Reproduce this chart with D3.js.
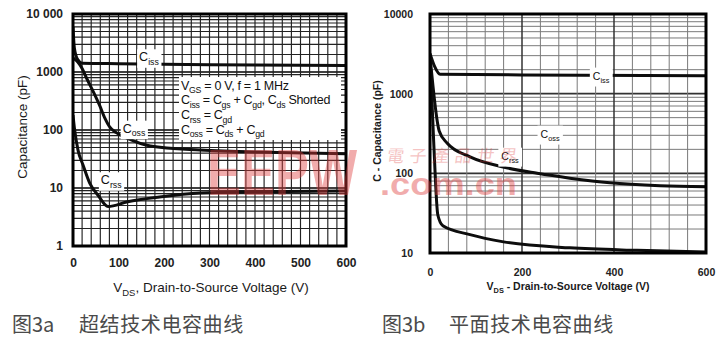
<!DOCTYPE html>
<html>
<head>
<meta charset="utf-8">
<script src="https://cdn.jsdelivr.net/npm/d3@7"></script>
<style>
	body { margin: 0; background: #fff; }
	svg { display: block; }
</style>
</head>
<body>
<script>
// figuur 3a: superjunction, [VDS (V), C (pF)]
const aCiss = [[0, 6000], [3, 2600], [10, 1650], [20, 1420], [100, 1390], [300, 1340], [600, 1290]]
const aCoss = [[0, 1750], [10, 1500], [20, 1150], [31, 750], [45, 450], [59, 260], [70, 160], [80, 115], [95, 90], [120, 72], [170, 53], [280, 45], [450, 41], [600, 39]]
const aCrss = [[0, 180], [3, 110], [11, 45], [22, 25], [37, 12], [55, 7.5], [77, 4.8], [120, 5.8], [190, 7.0], [280, 8.2], [400, 8.6], [600, 8.9]]

// figuur 3b: planar
const bCiss = [[0, 3200], [10, 2200], [22, 1750], [200, 1720], [600, 1680]]
const bCoss = [[0, 3000], [20, 340], [37, 240], [87, 161], [159, 120], [233, 100], [304, 87], [391, 76], [500, 70], [600, 68]]
const bCrss = [[0, 3000], [8, 250], [17, 30], [28, 22], [87, 17], [160, 13.8], [304, 11.6], [450, 10.8], [600, 10.3]]

// ticks
const aXTicks = [0, 100, 200, 300, 400, 500, 600]
const aYTicks = [1, 10, 100, 1000, 10000]
const aYLabels = ['1', '10', '100', '1000', '10 000']
const bXTicks = [0, 200, 400, 600]
const bYTicks = [10, 100, 1000, 10000]
const bYLabels = ['10', '100', '1000', '10000']

const W = 725
const H = 352
const font = 'Liberation Sans, Arial, Helvetica, sans-serif'
const cjk = 'Noto Sans CJK SC, sans-serif'

const svg = d3.select('body').append('svg').attr('width', W).attr('height', H)
svg.append('rect').attr('width', W).attr('height', H).attr('fill', '#fff')

// tekst met subscript stukjes, parts = [[tekst, sub?], ...]
function richText(sel, parts, fs) {
	let down = false
	parts.forEach(([t, sub]) => {
		const ts = sel.append('tspan').text(t)
		if (sub) {
			ts.attr('font-size', fs * 0.7)
			if (!down) ts.attr('dy', fs * 0.28)
			down = true
		} else if (down) {
			ts.attr('dy', -fs * 0.28)
			down = false
		}
	})
	return sel
}

function curveLabel(g, x, y, sub, fs, pad) {
	const t = g.append('text')
		.attr('x', x)
		.attr('y', y + fs * 0.35)
		.attr('text-anchor', 'middle')
		.attr('font-family', font)
		.attr('font-size', fs)
		.attr('fill', '#111')
	richText(t, [['C'], [sub, true]], fs)
	const b = t.node().getBBox()
	g.insert('rect', () => t.node())
		.attr('x', b.x - pad)
		.attr('y', b.y - pad + 1)
		.attr('width', b.width + pad * 2)
		.attr('height', b.height + pad * 2 - 2)
		.attr('fill', '#fff')
}

function drawChart(o) {
	const x = d3.scaleLinear().domain([0, 600]).range(o.xr)
	const y = d3.scaleLog().domain(o.yd).range(o.yr)
	const g = svg.append('g')

	// grid
	const decades = d3.range(Math.log10(o.yd[0]), Math.log10(o.yd[1])).map(p => Math.pow(10, p))
	const minors = []
	decades.forEach(d => d3.range(2, 10).forEach(k => minors.push(d * k)))

	g.append('g').selectAll('line')
		.data(minors)
		.join('line')
		.attr('x1', o.xr[0]).attr('x2', o.xr[1])
		.attr('y1', d => y(d)).attr('y2', d => y(d))
		.attr('stroke', o.gridColor).attr('stroke-width', o.gridWidth)

	g.append('g').selectAll('line')
		.data(decades)
		.join('line')
		.attr('x1', o.xr[0]).attr('x2', o.xr[1])
		.attr('y1', d => y(d)).attr('y2', d => y(d))
		.attr('stroke', o.majorColor).attr('stroke-width', 1.6)

	g.append('g').selectAll('line')
		.data(d3.range(0, 601, o.xStep))
		.join('line')
		.attr('x1', d => x(d)).attr('x2', d => x(d))
		.attr('y1', o.yr[0]).attr('y2', o.yr[1])
		.attr('stroke', d => (o.xMajor.includes(d) ? o.majorColor : o.gridColor))
		.attr('stroke-width', d => (o.xMajor.includes(d) ? 1.5 : o.gridWidth))

	// curves
	const clipId = 'clip' + o.id
	svg.append('clipPath').attr('id', clipId)
		.append('rect')
		.attr('x', o.xr[0]).attr('y', o.yr[1])
		.attr('width', o.xr[1] - o.xr[0]).attr('height', o.yr[0] - o.yr[1])

	const line = d3.line().x(d => x(d[0])).y(d => y(d[1])).curve(d3.curveMonotoneX)
	g.append('g').attr('clip-path', `url(#${clipId})`)
		.selectAll('path')
		.data(o.curves)
		.join('path')
		.attr('d', line)
		.attr('fill', 'none')
		.attr('stroke', '#0d0d0d')
		.attr('stroke-width', 3)
		.attr('stroke-linejoin', 'round')

	// labels
	o.labels.forEach(l => curveLabel(g, x(l[0]), y(l[1]), l[2], o.labelSize, o.labelPad))

	if (o.extra) o.extra(g)

	// rand
	g.append('rect')
		.attr('x', o.xr[0]).attr('y', o.yr[1])
		.attr('width', o.xr[1] - o.xr[0]).attr('height', o.yr[0] - o.yr[1])
		.attr('fill', 'none').attr('stroke', '#000').attr('stroke-width', 3)

	// assen
	const gx = g.append('g')
		.attr('transform', `translate(0,${o.yr[0]})`)
		.call(d3.axisBottom(x).tickValues(o.xTicks).tickSize(0).tickPadding(o.xPad))
	const gy = g.append('g')
		.attr('transform', `translate(${o.xr[0]},0)`)
		.call(d3.axisLeft(y).tickValues(o.yTicks).tickFormat((d, i) => o.yLabels[i]).tickSize(0).tickPadding(o.yPad))
	;[gx, gy].forEach(a => {
		a.select('.domain').remove()
		a.attr('font-family', font).attr('font-size', o.tickSize).attr('font-weight', 'bold')
		a.selectAll('text').attr('fill', '#222')
	})

	// astitels
	const tx = g.append('text')
		.attr('x', o.xTitle[0]).attr('y', o.xTitle[1])
		.attr('text-anchor', 'middle')
		.attr('font-family', font).attr('font-size', o.titleSize)
		.attr('font-weight', o.titleWeight)
		.attr('fill', '#1a1a1a')
	richText(tx, o.xTitleParts, o.titleSize)

	g.append('text')
		.attr('transform', `translate(${o.yTitle[0]},${o.yTitle[1]}) rotate(-90)`)
		.attr('text-anchor', 'middle')
		.attr('font-family', font).attr('font-size', o.titleSize)
		.attr('font-weight', o.titleWeight)
		.attr('fill', '#1a1a1a')
		.text(o.yTitleText)
}

// figuur 3a
drawChart({
	id: 'a',
	xr: [73, 346],
	yr: [246, 14],
	yd: [1, 10000],
	xStep: 20,
	xMajor: [],
	gridColor: '#222',
	majorColor: '#000',
	gridWidth: 1.15,
	curves: [aCiss, aCoss, aCrss],
	labels: [[167, 1820, 'iss'], [134, 107, 'oss'], [84, 13.8, 'rss']],
	labelSize: 12.5,
	labelPad: 2,
	xTicks: aXTicks,
	yTicks: aYTicks,
	yLabels: aYLabels,
	xPad: 12,
	yPad: 10,
	tickSize: 12,
	titleSize: 13.5,
	titleWeight: 'normal',
	xTitle: [211, 292],
	xTitleParts: [['V'], ['DS', true], [', Drain-to-Source Voltage (V)']],
	yTitle: [27, 127],
	yTitleText: 'Capacitance (pF)',
	extra: g => {
		g.append('rect').attr('x', 179).attr('y', 77).attr('width', 162).attr('height', 63).attr('fill', '#fff')
		const lines = [
			[['V'], ['GS', true], [' = 0 V, f = 1 MHz']],
			[['C'], ['iss', true], [' = C'], ['gs', true], [' + C'], ['gd', true], [', C'], ['ds', true], [' Shorted']],
			[['C'], ['rss', true], [' = C'], ['gd', true]],
			[['C'], ['oss', true], [' = C'], ['ds', true], [' + C'], ['gd', true]]
		]
		lines.forEach((parts, i) => {
			const t = g.append('text')
				.attr('x', 181).attr('y', 89.5 + i * 14.8)
				.attr('font-family', font).attr('font-size', 12.5)
				.attr('letter-spacing', -0.3)
				.attr('fill', '#111')
			richText(t, parts, 12.5)
		})
	}
})

// figuur 3b
drawChart({
	id: 'b',
	xr: [430, 706],
	yr: [253, 14],
	yd: [10, 10000],
	xStep: 40,
	xMajor: [200, 400],
	gridColor: '#7a7a7a',
	majorColor: '#333',
	gridWidth: 1,
	curves: [bCiss, bCoss, bCrss],
	labels: [[372, 1670, 'iss'], [261, 312, 'oss'], [174, 165, 'rss']],
	labelSize: 10.5,
	labelPad: 3,
	xTicks: bXTicks,
	yTicks: bYTicks,
	yLabels: bYLabels,
	xPad: 16,
	yPad: 17,
	tickSize: 10.5,
	titleSize: 10.5,
	titleWeight: 'bold',
	xTitle: [568, 290],
	xTitleParts: [['V'], ['DS', true], [' - Drain-to-Source Voltage (V)']],
	yTitle: [381, 131],
	yTitleText: 'C - Capacitance (pF)'
})

// bijschriften
const captions = [[12, 79, '图3a', '超结技术电容曲线'], [382, 449, '图3b', '平面技术电容曲线']]
captions.forEach(c => {
	svg.append('text').attr('x', c[0]).attr('y', 332)
		.attr('font-family', cjk).attr('font-size', 20).attr('fill', '#4a4a4a').text(c[2])
	svg.append('text').attr('x', c[1]).attr('y', 332)
		.attr('font-family', cjk).attr('font-size', 20).attr('letter-spacing', 0.6).attr('fill', '#4a4a4a').text(c[3])
})

// watermerk
const wm = svg.append('g').attr('fill', '#e03c3c')
wm.append('text').attr('x', 207).attr('y', 195)
	.attr('font-family', font).attr('font-weight', 'bold').attr('font-size', 64)
	.attr('textLength', 150).attr('lengthAdjust', 'spacingAndGlyphs')
	.attr('opacity', 0.42).text('EEPW')
wm.append('text').attr('x', 380).attr('y', 195)
	.attr('font-family', font).attr('font-weight', 'bold').attr('font-size', 32)
	.attr('textLength', 137).attr('lengthAdjust', 'spacingAndGlyphs')
	.attr('opacity', 0.42).text('.com.cn')
wm.append('text').attr('x', 387).attr('y', 162)
	.attr('font-family', 'Noto Sans CJK TC, sans-serif').attr('font-size', 17)
	.attr('textLength', 130).attr('lengthAdjust', 'spacing')
	.attr('transform', 'skewX(-8)').attr('dx', 22)
	.attr('opacity', 0.3).text('電子產品世界')
</script>
</body>
</html>
